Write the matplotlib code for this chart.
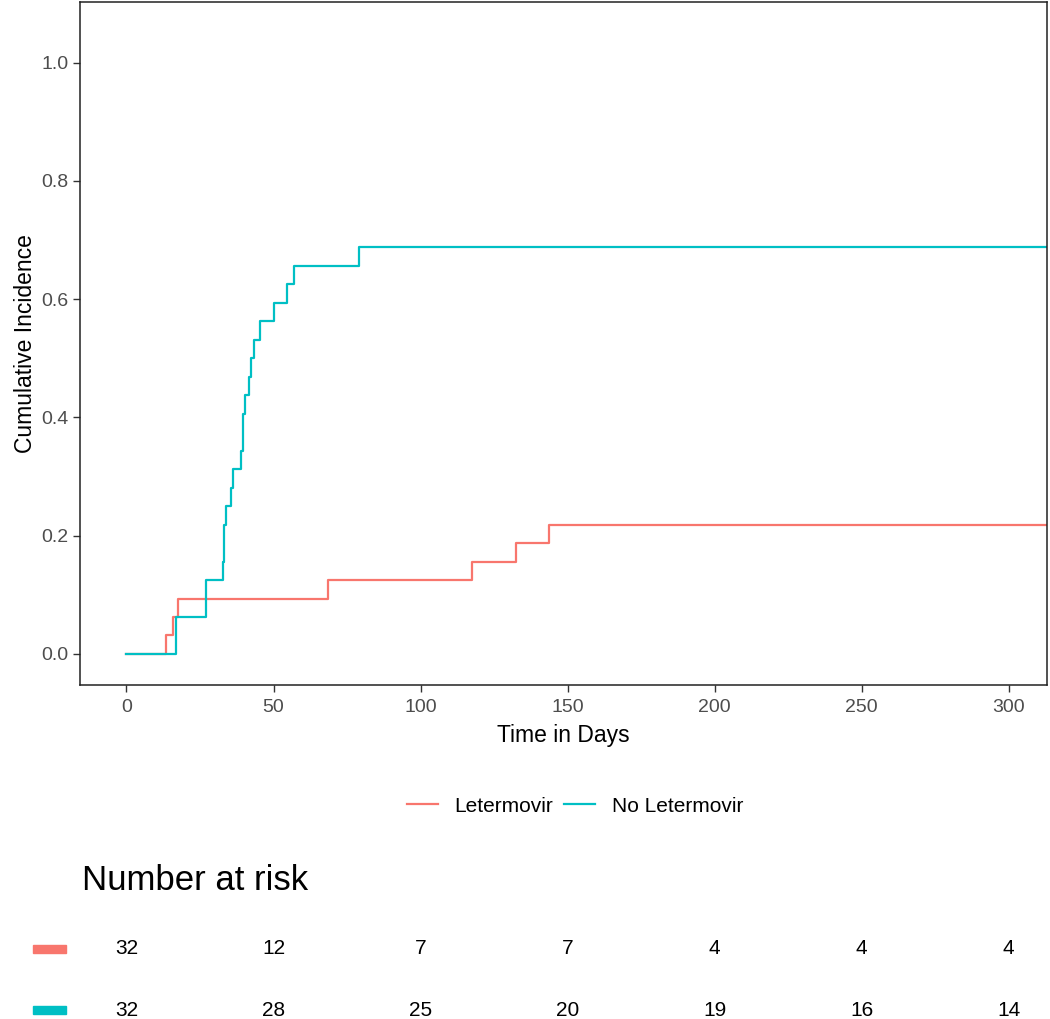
import matplotlib
matplotlib.use('Agg')
import matplotlib.pyplot as plt
from matplotlib.transforms import blended_transform_factory
from matplotlib.patches import Rectangle

plt.rcParams['font.family'] = ['Liberation Sans', 'DejaVu Sans']

# Cumulative incidence step data (event times in days, value after the step)
let_times = [0, 13.6, 15.8, 17.4, 68.5, 117.5, 132.5, 143.5]
let_values = [0.0, 0.03125, 0.0625, 0.09375, 0.125, 0.15625, 0.1875, 0.21875]

nolet_times = [0, 16.9, 27.2, 32.7, 33.2, 34.0, 35.7, 36.3, 38.8, 39.5, 40.2,
               41.6, 42.4, 43.2, 45.5, 50.1, 54.7, 56.9, 79.2]
nolet_values = [0.0, 0.0625, 0.125, 0.15625, 0.21875, 0.25, 0.28125, 0.3125,
                0.34375, 0.40625, 0.4375, 0.46875, 0.5, 0.53125, 0.5625,
                0.59375, 0.625, 0.65625, 0.6875]
last_time = 320

group_labels = ['Letermovir', 'No Letermovir']
group_colors = ['#F8766D', '#00BFC4']

risk_times = [0, 50, 100, 150, 200, 250, 300]
risk_let = [32, 12, 7, 7, 4, 4, 4]
risk_nolet = [32, 28, 25, 20, 19, 16, 14]

W, H = 1050, 1019
fig = plt.figure(figsize=(W / 100, H / 100), dpi=100)

# main panel (pixel box: x 80..1047, y 2..685)
ax = fig.add_axes([80 / W, 1 - 685 / H, (1047 - 80) / W, (685 - 2) / H])

ax.step(let_times + [last_time], let_values + [let_values[-1]], where='post',
        color=group_colors[0], linewidth=1.6, label=group_labels[0])
ax.step(nolet_times + [last_time], nolet_values + [nolet_values[-1]], where='post',
        color=group_colors[1], linewidth=1.6, label=group_labels[1])

ax.set_xlim(-15.8, 313)
ax.set_ylim(-0.0525, 1.1025)
ax.set_xticks(risk_times)
ax.set_yticks([0.0, 0.2, 0.4, 0.6, 0.8, 1.0])
ax.set_yticklabels(['0.0', '0.2', '0.4', '0.6', '0.8', '1.0'])
ax.tick_params(colors='#333333', labelcolor='#4D4D4D', labelsize=14,
               length=5, width=1.0)
ax.tick_params(axis='x', pad=5)
for s in ax.spines.values():
    s.set_linewidth(1.1)
    s.set_color('#222222')

ax.set_xlabel('Time in Days', fontsize=16.5, labelpad=6)
ax.set_ylabel('Cumulative Incidence', fontsize=16.5, labelpad=3)

leg = fig.legend(loc='center', bbox_to_anchor=(575 / W, 1 - 806 / H), ncol=2,
                 frameon=False, fontsize=15, handlelength=1.5, handletextpad=0.77,
                 columnspacing=0.53)

# number at risk table
fig.text(82 / W, 1 - 880 / H, 'Number at risk', fontsize=25, va='center', ha='left')

trans = blended_transform_factory(ax.transData, fig.transFigure)
for row_y, counts, col in [(949, risk_let, group_colors[0]),
                           (1010, risk_nolet, group_colors[1])]:
    fig.patches.append(Rectangle((33 / W, 1 - (row_y + 4) / H), 33 / W, 8 / H,
                                 transform=fig.transFigure, color=col))
    for t, n in zip(risk_times, counts):
        fig.text(t, 1 - row_y / H, str(n), transform=trans, fontsize=15,
                 ha='center', va='center')

fig.savefig('out.png', dpi=100)
